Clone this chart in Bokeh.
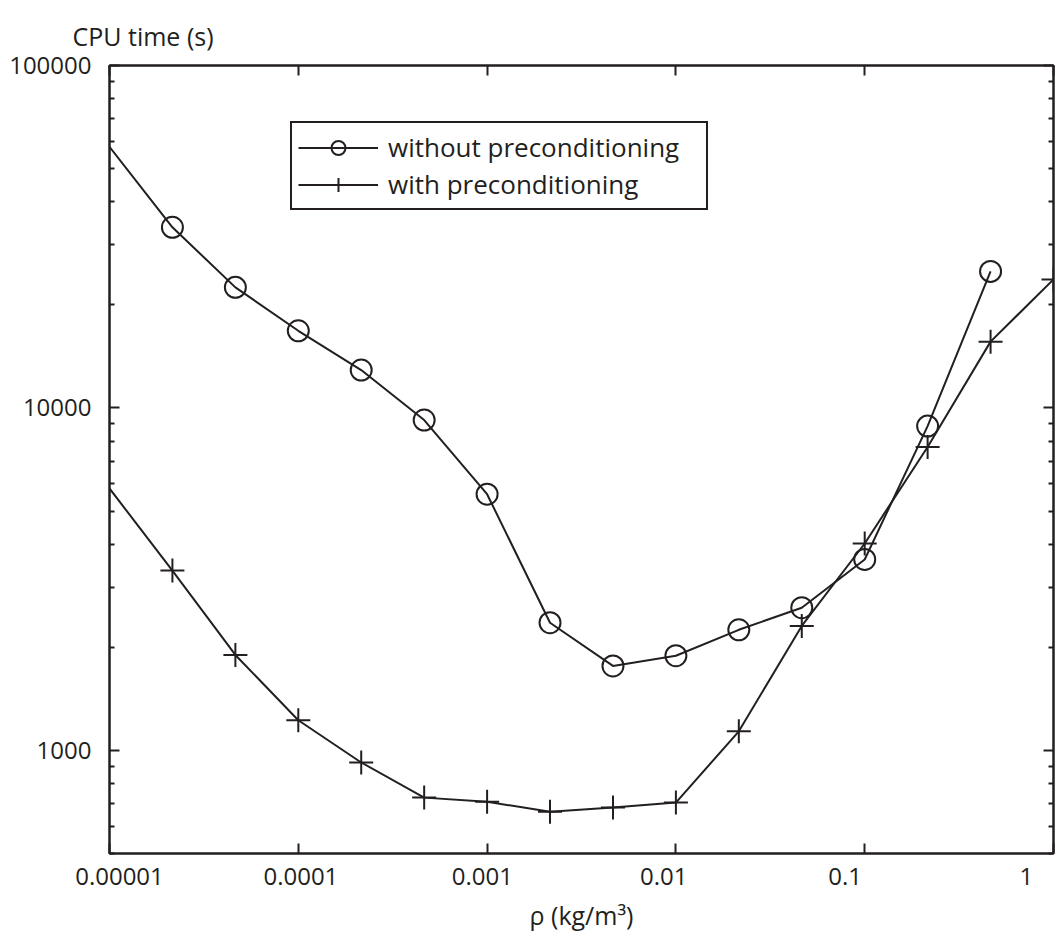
from bokeh.plotting import figure
from bokeh.models import (Range1d, LogAxis, FixedTicker, LogScale, Legend, LegendItem)
from bokeh.embed import file_html
from bokeh.resources import INLINE

# ---- data ----
rho = [1e-5, 2.154e-5, 4.642e-5, 1e-4, 2.154e-4, 4.642e-4, 1e-3, 2.154e-3, 4.642e-3,
       1e-2, 2.154e-2, 4.642e-2, 0.1, 0.2154, 0.4642, 1.0]
t_without = [57900, 33700, 22500, 16800, 12900, 9220, 5600, 2360, 1765, 1890, 2250, 2610,
             3610, 8850, 25050]
t_with = [5820, 3350, 1900, 1225, 922, 728, 708, 662, 681, 704, 1137, 2310, 4020, 7690,
          15620, 23730]

x_ticks = [1e-5, 1e-4, 1e-3, 1e-2, 1e-1, 1.0]
x_tick_labels = ["0.00001", "0.0001", "0.001", "0.01", "0.1", "1"]
y_ticks = [1000, 10000, 100000]
y_tick_labels = ["1000", "10000", "100000"]
y_minor = [m * d for d in (100, 1000, 10000) for m in range(2, 10)]

INK = "#231f20"
FONT = "Open Sans"
FS_TICK = "24px"
FS_TEXT = "26px"

p = figure(width=1063, height=934, x_axis_type="log", y_axis_type="log",
           x_range=Range1d(1e-5, 1.0), y_range=Range1d(500, 100000),
           output_backend="svg", toolbar_location=None,
           min_border_left=109, min_border_right=10, min_border_top=65,
           min_border_bottom=70, background_fill_color="white",
           outline_line_color=INK, outline_line_width=2)
p.xgrid.visible = False
p.ygrid.visible = False

p.title.text = "CPU time (s)"
p.title.align = "left"
p.title.vertical_align = "top"
p.title.offset = -37
p.title.text_font = FONT
p.title.text_font_size = "25px"
p.title.text_font_style = "normal"
p.title.text_color = INK
p.title.standoff = 22

# compressed scale used only for x tick label placement (as in the reference)
p.extra_x_ranges = {"lab": Range1d(0.881e-5, 1.41)}
p.extra_x_scales = {"lab": LogScale()}

def style_ticks(ax):
    ax.axis_line_color = INK
    ax.axis_line_width = 2
    ax.major_tick_line_color = INK
    ax.minor_tick_line_color = INK
    ax.major_tick_line_width = 2
    ax.minor_tick_line_width = 2
    ax.major_tick_in = 10
    ax.major_tick_out = 0
    ax.minor_tick_in = 5
    ax.minor_tick_out = 0

def hide_labels(ax):
    ax.major_label_text_font_size = "1px"
    ax.major_label_text_color = None
    ax.major_label_standoff = 0

# bottom: ticks only
xb = p.xaxis[0]
xb.ticker = FixedTicker(ticks=x_ticks, minor_ticks=[])
style_ticks(xb)
hide_labels(xb)

# labels axis
xl = LogAxis(x_range_name="lab", ticker=FixedTicker(ticks=x_ticks, minor_ticks=[]),
             axis_line_color=None, major_tick_line_color=None, minor_tick_line_color=None,
             major_tick_in=0, major_tick_out=0, minor_tick_in=0, minor_tick_out=0)
xl.major_label_overrides = {v: s for v, s in zip(x_ticks, x_tick_labels)}
xl.major_label_text_font = FONT
xl.major_label_text_font_size = FS_TICK
xl.major_label_text_color = INK
xl.major_label_standoff = 14
xl.axis_label = "ρ (kg/m³)"
xl.axis_label_text_font = FONT
xl.axis_label_text_font_size = "25px"
xl.axis_label_text_font_style = "normal"
xl.axis_label_text_color = INK
xl.axis_label_standoff = 10
p.add_layout(xl, "below")

# left axis
yl = p.yaxis[0]
yl.ticker = FixedTicker(ticks=y_ticks, minor_ticks=y_minor)
style_ticks(yl)
yl.major_label_overrides = {v: s for v, s in zip(y_ticks, y_tick_labels)}
yl.major_label_text_font = FONT
yl.major_label_text_font_size = FS_TICK
yl.major_label_text_color = INK
yl.major_label_standoff = 18
yl.major_label_orientation = "horizontal"

# top axis
xt = LogAxis(ticker=FixedTicker(ticks=x_ticks, minor_ticks=[]))
style_ticks(xt)
hide_labels(xt)
p.add_layout(xt, "above")

# right axis
yr = LogAxis(ticker=FixedTicker(ticks=y_ticks, minor_ticks=y_minor))
style_ticks(yr)
hide_labels(yr)
p.add_layout(yr, "right")

# series
l1 = p.line(rho[:len(t_without)], t_without, line_color=INK, line_width=2)
c1 = p.scatter(rho[1:len(t_without)], t_without[1:], marker="circle", size=21,
               fill_color=None, line_color=INK, line_width=2)
l2 = p.line(rho, t_with, line_color=INK, line_width=2)
c2 = p.scatter(rho[1:], t_with[1:], marker="cross", size=24, line_color=INK, line_width=2)

legend = Legend(items=[LegendItem(label="without preconditioning", renderers=[l1, c1]),
                       LegendItem(label="with preconditioning", renderers=[l2, c2])],
                location=(181, 643), glyph_width=80, glyph_height=35, spacing=1,
                padding=6, margin=0, label_text_font=FONT, label_text_font_size=FS_TEXT,
                label_text_color=INK, border_line_color=INK, border_line_width=2,
                border_line_alpha=1, label_standoff=10, label_width=312,
                background_fill_alpha=1)
p.add_layout(legend, "center")

open("out.html", "w").write(file_html(p, INLINE))
